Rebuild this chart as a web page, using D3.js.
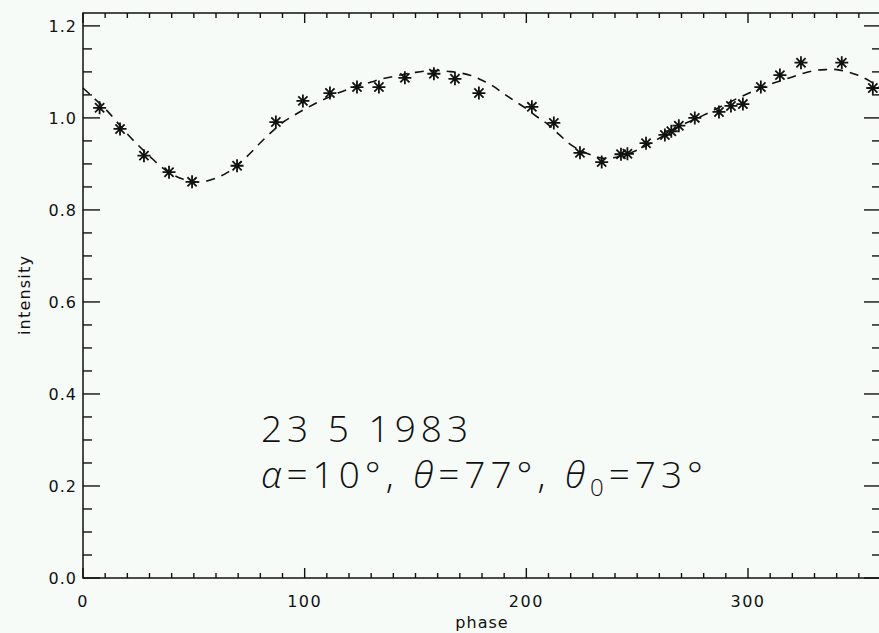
<!DOCTYPE html>
<html><head><meta charset="utf-8">
<script src="https://cdn.jsdelivr.net/npm/d3@7"></script>
<style>
html,body{margin:0;padding:0;background:#f7fbf8;}
svg{display:block;}
</style></head>
<body>
<svg id="chart" width="879" height="633"></svg>
<script>
// observed data (asterisks)
const starPhase = [7.5, 16.7, 27.5, 38.8, 49.2, 69.5, 87, 99.2, 111.4, 123.6, 133.5, 145.2, 158.3, 167.8, 178.6, 202.5, 212.4, 224.2, 234, 242.7, 245.6, 254, 262.5, 265.4, 268.8, 276, 286.9, 292.3, 297.7, 305.8, 314.4, 323.9, 342.3, 356.3];
const starIntensity = [1.022, 0.976, 0.918, 0.882, 0.861, 0.896, 0.991, 1.037, 1.054, 1.067, 1.067, 1.087, 1.096, 1.085, 1.054, 1.024, 0.989, 0.924, 0.904, 0.921, 0.922, 0.945, 0.963, 0.971, 0.983, 1.0, 1.013, 1.026, 1.030, 1.067, 1.093, 1.12, 1.12, 1.065];
// model curve (dashed)
const curvePhase = [0,5,10,15,20,25,30,35,40,45,50,55,60,65,70,75,80,85,90,95,100,105,110,115,120,125,130,135,140,145,150,155,160,165,170,175,180,185,190,195,200,205,210,215,220,225,230,235,240,245,250,255,260,265,270,275,280,285,290,295,300,305,310,315,320,325,330,335,340,345,350,355,360];
const curveIntensity = [1.065,1.043,1.02,0.993,0.965,0.94,0.917,0.895,0.878,0.867,0.861,0.862,0.869,0.881,0.899,0.921,0.946,0.969,0.99,1.005,1.019,1.032,1.043,1.054,1.063,1.071,1.078,1.085,1.09,1.095,1.099,1.102,1.103,1.101,1.098,1.092,1.082,1.069,1.052,1.036,1.02,1.002,0.985,0.963,0.942,0.928,0.918,0.912,0.914,0.92,0.93,0.942,0.956,0.97,0.984,0.995,1.006,1.018,1.03,1.042,1.053,1.063,1.073,1.081,1.089,1.097,1.103,1.105,1.105,1.1,1.092,1.08,1.065];
const xTicks = [0, 100, 200, 300];
const yTicks = [0.0, 0.2, 0.4, 0.6, 0.8, 1.0, 1.2];
const xLabel = "phase";
const yLabel = "intensity";
const noteLine1 = "23 5 1983";

const svg = d3.select("#chart");
const L = 83, R = 881, T = 13, B = 578;
const x = d3.scaleLinear().domain([0, 360]).range([L, R]);
const y = d3.scaleLinear().domain([0, 1.228]).range([B, T]);

const ink = "#111";
const axFont = "'DejaVu Sans', sans-serif";

// frame
svg.append("rect").attr("x", L).attr("y", T).attr("width", R - L).attr("height", B - T)
  .attr("fill", "none").attr("stroke", ink).attr("stroke-width", 1.5);

// x ticks (bottom and top)
const xMinor = d3.range(0, 361, 10);
xMinor.forEach(v => {
  const major = v % 100 === 0;
  const len = major ? 10 : 5;
  svg.append("line").attr("x1", x(v)).attr("x2", x(v)).attr("y1", B).attr("y2", B - len).attr("stroke", ink).attr("stroke-width", 1.4);
  svg.append("line").attr("x1", x(v)).attr("x2", x(v)).attr("y1", T).attr("y2", T + len).attr("stroke", ink).attr("stroke-width", 1.4);
});
// y ticks (left and right)
const yMinor = d3.range(0, 25).map(i => i * 0.05);
yMinor.forEach((v, i) => {
  const major = i % 4 === 0;
  const len = major ? 17 : 9;
  svg.append("line").attr("x1", L).attr("x2", L + len).attr("y1", y(v)).attr("y2", y(v)).attr("stroke", ink).attr("stroke-width", 1.4);
  svg.append("line").attr("x1", R).attr("x2", R - len).attr("y1", y(v)).attr("y2", y(v)).attr("stroke", ink).attr("stroke-width", 1.4);
});

// tick labels
svg.append("g").selectAll("text").data(xTicks).join("text")
  .attr("x", d => x(d)).attr("y", 607).attr("text-anchor", "middle")
  .attr("font-family", axFont).attr("font-size", 16).attr("letter-spacing", 1.5).attr("fill", ink)
  .text(d => d);
svg.append("g").selectAll("text").data(yTicks).join("text")
  .attr("x", 77).attr("y", d => y(d) + 6).attr("text-anchor", "end")
  .attr("font-family", axFont).attr("font-size", 16).attr("letter-spacing", 1).attr("fill", ink)
  .text(d => d.toFixed(1));

// axis titles
svg.append("text").attr("x", (L + R) / 2).attr("y", 628).attr("text-anchor", "middle")
  .attr("font-family", axFont).attr("font-size", 16).attr("letter-spacing", 1).attr("fill", ink).text(xLabel);
svg.append("text").attr("transform", "translate(30,295) rotate(-90)").attr("text-anchor", "middle")
  .attr("font-family", axFont).attr("font-size", 16).attr("letter-spacing", 1.2).attr("fill", ink).text(yLabel);

// dashed model curve
const line = d3.line().x(d => x(d[0])).y(d => y(d[1])).curve(d3.curveCatmullRom);
svg.append("path").datum(d3.zip(curvePhase, curveIntensity))
  .attr("d", line).attr("fill", "none").attr("stroke", ink).attr("stroke-width", 1.6)
  .attr("stroke-dasharray", "9,7");

// asterisks
const s = 6.5, s2 = 4.6;
const starPath = `M${-s},0L${s},0M0,${-s}L0,${s}M${-s2},${-s2}L${s2},${s2}M${-s2},${s2}L${s2},${-s2}`;
svg.append("g").selectAll("path").data(d3.zip(starPhase, starIntensity)).join("path")
  .attr("transform", d => `translate(${x(d[0])},${y(d[1])})`)
  .attr("d", starPath).attr("stroke", ink).attr("stroke-width", 1.8).attr("fill", "none");

// annotation
const noteFont = "'Open Sans', 'DejaVu Sans', sans-serif";
svg.append("text").attr("x", 261).attr("y", 442)
  .attr("font-family", noteFont).attr("font-weight", 300).attr("font-size", 37).attr("fill", ink)
  .attr("letter-spacing", 5).attr("xml:space", "preserve").text(noteLine1);
const t2 = svg.append("text").attr("x", 261).attr("y", 488)
  .attr("font-family", noteFont).attr("font-weight", 300).attr("font-size", 37).attr("fill", ink).attr("letter-spacing", 5);
t2.append("tspan").attr("font-style", "italic").text("α");
t2.append("tspan").text("=10°, ");
t2.append("tspan").attr("font-style", "italic").text("θ");
t2.append("tspan").text("=77°, ");
t2.append("tspan").attr("font-style", "italic").text("θ");
t2.append("tspan").attr("font-size", 24).attr("dy", 8).text("0");
t2.append("tspan").attr("dy", -8).text("=73°");
</script>
</body></html>
